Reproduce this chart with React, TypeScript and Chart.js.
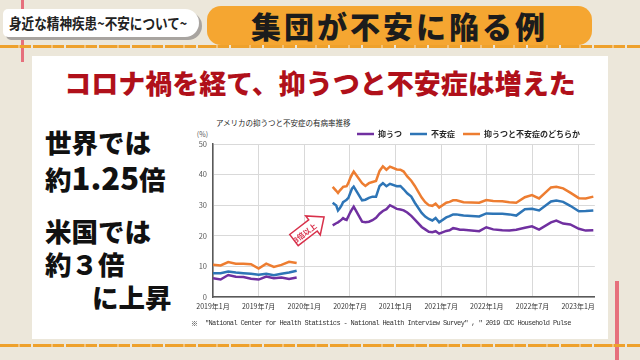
import React, { useEffect, useRef } from "react";
import { Chart, registerables } from "chart.js";

Chart.register(...registerables);

const FONT = '"Noto Sans CJK JP", "Noto Sans", sans-serif';

const seriesLabels = ["抑うつ", "不安症", "抑うつと不安症のどちらか"];
const seriesColors = ["#7030a0", "#2e75b6", "#ed7d31"];

const tickMonths = [0, 6, 12, 18, 24, 30, 36, 42, 48];
const tickLabels = [
  "2019年1月", "2019年7月", "2020年1月", "2020年7月", "2021年1月",
  "2021年7月", "2022年1月", "2022年7月", "2023年1月",
];
const yTickValues = [0, 10, 20, 30, 40, 50];

// 2019 National Health Interview Survey (monthly)
const nhisDates = [
  "2019-01-01", "2019-02-01", "2019-03-01", "2019-04-01", "2019-05-01", "2019-06-01",
  "2019-07-01", "2019-08-01", "2019-09-01", "2019-10-01", "2019-11-01", "2019-12-01",
];
const nhisDepression = [6.1, 5.7, 7.2, 6.6, 6.5, 6.0, 5.7, 6.7, 6.1, 6.4, 5.9, 6.4];
const nhisAnxiety = [7.8, 7.8, 8.3, 8.0, 7.8, 7.6, 7.3, 7.6, 7.1, 7.6, 8.0, 8.6];
const nhisEither = [10.5, 10.3, 11.4, 10.9, 10.9, 10.7, 9.3, 10.9, 9.8, 10.5, 11.5, 11.1];

// Household Pulse Survey (survey period start dates)
const pulseDates = [
  "2020-04-23", "2020-05-07", "2020-05-14", "2020-05-21", "2020-05-28", "2020-06-04",
  "2020-06-11", "2020-06-18", "2020-06-25", "2020-07-02", "2020-07-09", "2020-07-16",
  "2020-08-19", "2020-09-02", "2020-09-16", "2020-09-30", "2020-10-14", "2020-10-28",
  "2020-11-11", "2020-11-25", "2020-12-09",
  "2021-01-06", "2021-01-20", "2021-02-03", "2021-02-17", "2021-03-03", "2021-03-17",
  "2021-04-14", "2021-04-28", "2021-05-12", "2021-05-26", "2021-06-09", "2021-06-23",
  "2021-07-21", "2021-08-04", "2021-08-18", "2021-09-01", "2021-09-15", "2021-09-29",
  "2021-12-01", "2021-12-29", "2022-01-26", "2022-03-02", "2022-03-30", "2022-04-27",
  "2022-06-01", "2022-06-29", "2022-07-27",
  "2022-09-14", "2022-10-05", "2022-11-02", "2022-11-30", "2023-01-04", "2023-02-01", "2023-03-01",
];
const pulseDepression = [
  23.4, 24.1, 24.4, 24.8, 25.3, 25.8, 25.4, 25.2, 26.4, 27.6, 28.6, 29.5,
  24.6, 24.4, 24.6, 25.1, 25.9, 27.2, 28.1, 28.7, 30.0,
  28.8, 28.6, 28.3, 27.6, 26.5, 25.3,
  22.9, 22.1, 21.3, 21.2, 21.5, 20.7,
  21.6, 21.8, 22.5, 22.3, 22.0, 22.0,
  21.5, 22.8, 22.1, 21.8, 21.7, 22.0, 22.6, 23.1, 22.0,
  24.4, 25.0, 24.0, 23.7, 22.3, 21.7, 21.8,
];
const pulseAnxiety = [
  30.8, 29.9, 28.3, 29.0, 29.9, 31.0, 31.4, 31.8, 32.4, 33.9, 35.4, 36.1,
  31.6, 31.8, 32.4, 32.8, 32.8, 36.3, 37.2, 36.2, 37.0,
  36.2, 36.3, 35.2, 33.9, 32.8, 30.8,
  27.5, 26.3, 25.5, 25.0, 25.8, 24.4,
  26.0, 26.4, 27.0, 27.0, 26.8, 26.6,
  26.3, 27.3, 27.2, 27.2, 27.0, 26.6, 28.7, 28.8, 28.3,
  31.2, 31.5, 31.1, 29.8, 28.0, 28.1, 28.3,
];
const pulseEither = [
  36.0, 34.7, 34.0, 34.8, 35.4, 36.0, 36.1, 36.2, 37.3, 38.8, 40.0, 41.0,
  37.2, 36.3, 37.2, 37.6, 37.9, 41.2, 42.7, 41.6, 42.6,
  41.7, 41.6, 41.0, 39.4, 38.0, 36.3,
  32.5, 31.0, 30.0, 29.8, 30.5, 29.2,
  30.8, 31.1, 31.6, 31.6, 31.3, 31.0,
  30.8, 31.7, 31.4, 31.3, 31.0, 30.8, 32.6, 33.3, 32.2,
  35.8, 36.0, 35.5, 34.1, 32.3, 32.2, 32.8,
];

const gapDate = "2020-02-01";
const xMaxDate = "2023-03-07";

function monthIndex(d: string): number {
  const [y, m, day] = d.split("-").map(Number);
  return (y - 2019) * 12 + (m - 1) + (day - 1) / 30;
}

function buildSeries(nhis: number[], pulse: number[]) {
  const pts: { x: number; y: number | null }[] = nhisDates.map((d, i) => ({ x: monthIndex(d), y: nhis[i] }));
  pts.push({ x: monthIndex(gapDate), y: null });
  pulseDates.forEach((d, i) => pts.push({ x: monthIndex(d), y: pulse[i] }));
  return pts;
}

const legendShift = {
  id: "legendShift",
  afterLayout(chart: any) {
    if (chart.legend) {
      chart.legend.left -= 8;
      chart.legend.right -= 8;
    }
  },
};

function abs(left: number, top: number, extra: React.CSSProperties = {}): React.CSSProperties {
  return { position: "absolute", left, top, ...extra };
}

export default function App() {
  const ref = useRef<HTMLCanvasElement>(null);

  useEffect(() => {
    const canvas = ref.current;
    if (!canvas) return;
    Chart.defaults.font.family = FONT;
    const seriesData = [
      buildSeries(nhisDepression, pulseDepression),
      buildSeries(nhisAnxiety, pulseAnxiety),
      buildSeries(nhisEither, pulseEither),
    ];
    const chart = new Chart(canvas, {
      type: "line",
      data: {
        datasets: seriesData.map((data, i) => ({
          label: seriesLabels[i],
          data,
          borderColor: seriesColors[i],
          backgroundColor: seriesColors[i],
          borderWidth: 2.5,
          pointRadius: 0,
          tension: 0,
          spanGaps: false,
        })),
      },
      options: {
        responsive: true,
        maintainAspectRatio: false,
        animation: false,
        layout: { padding: { left: 0, right: 4, top: 0, bottom: 0 } },
        plugins: {
          title: { display: false },
          tooltip: { enabled: false },
          legend: {
            position: "top",
            align: "end",
            maxHeight: 22,
            labels: {
              usePointStyle: true,
              pointStyle: "line",
              pointStyleWidth: 17,
              padding: 8,
              color: "#262626",
              font: { size: 8, family: FONT, weight: "bold" },
            },
          },
        },
        scales: {
          x: {
            type: "linear",
            min: 0,
            max: monthIndex(xMaxDate),
            afterBuildTicks: (s: any) => {
              s.ticks = tickMonths.map((v) => ({ value: v }));
            },
            afterFit: (s: any) => {
              s.height = 20;
            },
            ticks: {
              autoSkip: false,
              maxRotation: 0,
              padding: 5,
              color: "#333333",
              font: { size: 7, family: FONT },
              callback: (v: any) => {
                const i = tickMonths.indexOf(Number(v));
                return i >= 0 ? tickLabels[i] : "";
              },
            },
            grid: { color: "#d9d9d9", lineWidth: 1, drawTicks: false },
            border: { color: "#595959", width: 1.5 },
          },
          y: {
            min: 0,
            max: 50,
            afterBuildTicks: (s: any) => {
              s.ticks = yTickValues.map((v) => ({ value: v }));
            },
            afterFit: (s: any) => {
              s.width = 33;
            },
            ticks: {
              padding: 6,
              color: "#595959",
              font: { size: 7.5, family: FONT },
            },
            grid: { color: "#d9d9d9", lineWidth: 1, drawTicks: false },
            border: { color: "#595959", width: 1.5 },
          },
        },
      },
      plugins: [legendShift],
    } as any);
    return () => chart.destroy();
  }, []);

  const big: React.CSSProperties = {
    fontSize: 26.5,
    fontWeight: 900,
    color: "#111",
    lineHeight: "30px",
    whiteSpace: "nowrap",
  };

  return (
    <div
      style={{
        position: "fixed",
        left: 0,
        top: 0,
        width: 640,
        height: 360,
        overflow: "hidden",
        background: "#ece7da",
        fontFamily: FONT,
      }}
    >
      {/* decorative lines */}
      <div style={abs(21, 0, { width: 3, height: 62, background: "#e6707c" })} />
      <div style={abs(615, 281, { width: 4, height: 79, background: "#e6707c" })} />
      <div
        style={abs(0, 45, {
          width: 640,
          height: 3,
          background: "repeating-linear-gradient(90deg, #eea12c 0 18px, #f3c27a 18px 20px, #eea12c 20px 31px, #ece7da 31px 33px)",
        })}
      />
      <div
        style={abs(0, 344, {
          width: 640,
          height: 3,
          background: "repeating-linear-gradient(90deg, #eea12c 0 18px, #f3c27a 18px 20px, #eea12c 20px 31px, #ece7da 31px 33px)",
        })}
      />

      {/* top-left label */}
      <div
        style={abs(3, 9, {
          width: 196,
          height: 28,
          background: "#ffffff",
          borderRadius: "5px 14px 14px 5px",
          boxShadow: "3px 3px 0 #a8a4a0",
        })}
      />
      <div
        style={abs(9, 9, {
          height: 28,
          lineHeight: "28px",
          fontSize: 15,
          fontWeight: 700,
          color: "#222",
          whiteSpace: "nowrap",
          transform: "scaleX(0.84)",
          transformOrigin: "left center",
        })}
      >
        身近な精神疾患~不安について~
      </div>

      {/* banner */}
      <div
        style={abs(207, 6, {
          width: 385,
          height: 39,
          background: "#f5a631",
          borderRadius: 14,
        })}
      />
      <div
        style={abs(207, 6, {
          width: 385,
          height: 39,
          lineHeight: "39px",
          textAlign: "center",
          fontSize: 30,
          fontWeight: 900,
          letterSpacing: 3,
          color: "#1c1c1c",
          whiteSpace: "nowrap",
        })}
      >
        集団が不安に陥る例
      </div>

      {/* white panel */}
      <div style={abs(32, 56, { width: 576, height: 283, background: "#ffffff" })} />

      {/* main heading */}
      <div
        style={abs(32, 67, {
          width: 576,
          lineHeight: "32px",
          textAlign: "center",
          fontSize: 27,
          fontWeight: 900,
          color: "#b0101a",
          whiteSpace: "nowrap",
        })}
      >
        コロナ禍を経て、抑うつと不安症は増えた
      </div>

      {/* left statements */}
      <div style={abs(45, 127, big)}>世界では</div>
      <div style={abs(45, 162, big)}>
        約<span style={{ fontSize: 31 }}>1.25</span>倍
      </div>
      <div style={abs(45, 216, big)}>米国では</div>
      <div style={abs(45, 249, big)}>約３倍</div>
      <div style={abs(92, 282, big)}>に上昇</div>

      {/* chart title and unit */}
      <div
        style={abs(216, 118, {
          fontSize: 7.5,
          lineHeight: "10px",
          color: "#262626",
          whiteSpace: "nowrap",
        })}
      >
        アメリカの抑うつと不安症の有病率推移
      </div>
      <div
        style={abs(190, 129, {
          width: 18,
          textAlign: "right",
          fontSize: 7,
          lineHeight: "10px",
          color: "#595959",
        })}
      >
        (%)
      </div>

      {/* chart */}
      <div style={abs(180, 122, { width: 420, height: 195 })}>
        <canvas ref={ref} />
      </div>

      {/* arrow annotation */}
      <svg width={640} height={360} style={abs(0, 0, { pointerEvents: "none" })}>
        <g transform="translate(309 228.5) rotate(-37.5)">
          <path
            d="M-19,-7 L5,-7 L5,-12 L19,0 L5,12 L5,7 L-19,7 Z"
            fill="#ffffff"
            stroke="#d8314b"
            strokeWidth={1.5}
            strokeLinejoin="miter"
          />
          <text
            x={-6}
            y={0.5}
            fill="#d8314b"
            fontSize={7.5}
            fontWeight={700}
            textAnchor="middle"
            dominantBaseline="central"
            fontFamily={FONT}
          >
            3倍以上
          </text>
        </g>
      </svg>

      {/* footnote */}
      <div style={abs(191, 318, { fontSize: 7, lineHeight: "10px", color: "#333", fontFamily: FONT })}>※</div>
      <div
        style={abs(205, 318, {
          fontSize: 7,
          lineHeight: "10px",
          color: "#333",
          fontFamily: '"Liberation Mono", monospace',
          letterSpacing: -0.65,
          whiteSpace: "pre",
        })}
      >
        {'"National Center for Health Statistics - National Health Interview Survey" , " 2019 CDC Household Pulse'}
      </div>
    </div>
  );
}
